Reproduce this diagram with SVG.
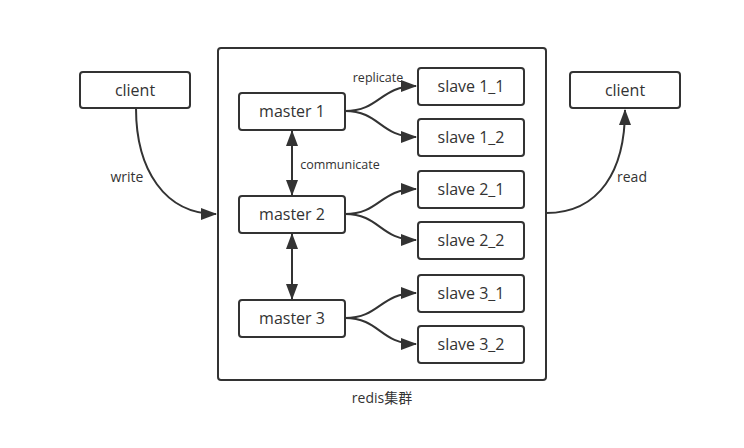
<svg xmlns="http://www.w3.org/2000/svg" width="744" height="448" viewBox="0 0 744 448">
<defs>
<style>
.box{fill:#fff;stroke:#333;stroke-width:2}
.t{font-family:"Open Sans","Noto Sans CJK SC",sans-serif;font-size:16px;fill:#333;text-anchor:middle;dominant-baseline:central}
.l{font-family:"Open Sans","Noto Sans CJK SC",sans-serif;font-size:14px;fill:#333;text-anchor:middle;dominant-baseline:central}
.s{font-family:"Open Sans","Noto Sans CJK SC",sans-serif;font-size:12.5px;fill:#333;text-anchor:middle;dominant-baseline:central}
.c{fill:none;stroke:#333;stroke-width:2}
</style>
<marker id="a" viewBox="0 0 16 12" refX="15" refY="6" markerWidth="16" markerHeight="12" markerUnits="userSpaceOnUse" orient="auto-start-reverse">
<path d="M0,0 L16,6 L0,12 z" fill="#333"/>
</marker>
</defs>
<rect width="744" height="448" fill="#fff"/>
<g id="cluster">
<rect class="box" x="218" y="48" width="328" height="332" rx="3"/>
<text class="l" x="382" y="397">redis集群</text>
</g>
<g id="client-left"><rect class="box" x="80" y="72" width="110" height="36" rx="3"/><text class="t" x="135" y="90">client</text></g>
<g id="client-right"><rect class="box" x="570" y="72" width="110" height="36" rx="3"/><text class="t" x="625" y="90">client</text></g>
<g id="master1"><rect class="box" x="239" y="93" width="106" height="37" rx="3"/><text class="t" x="292" y="111">master 1</text></g>
<g id="master2"><rect class="box" x="239" y="196" width="106" height="37" rx="3"/><text class="t" x="292" y="214">master 2</text></g>
<g id="master3"><rect class="box" x="239" y="300" width="106" height="37" rx="3"/><text class="t" x="292" y="318">master 3</text></g>
<g id="slave1_1"><rect class="box" x="418" y="68" width="106" height="37" rx="3"/><text class="t" x="471" y="86">slave 1_1</text></g>
<g id="slave1_2"><rect class="box" x="418" y="119" width="106" height="37" rx="3"/><text class="t" x="471" y="137">slave 1_2</text></g>
<g id="slave2_1"><rect class="box" x="418" y="171" width="106" height="37" rx="3"/><text class="t" x="471" y="189">slave 2_1</text></g>
<g id="slave2_2"><rect class="box" x="418" y="222" width="106" height="37" rx="3"/><text class="t" x="471" y="240">slave 2_2</text></g>
<g id="slave3_1"><rect class="box" x="418" y="275" width="106" height="37" rx="3"/><text class="t" x="471" y="293">slave 3_1</text></g>
<g id="slave3_2"><rect class="box" x="418" y="326" width="106" height="37" rx="3"/><text class="t" x="471" y="344">slave 3_2</text></g>
<g id="connectors">
<path class="c" d="M136,108 C136,170 165,214 216,214" marker-end="url(#a)"/>
<path class="c" d="M546,213 C600,213 625,170 625,110" marker-end="url(#a)"/>
<path class="c" d="M345,111 C380,111 380,86 416,86" marker-end="url(#a)"/>
<path class="c" d="M345,111 C380,111 380,137 416,137" marker-end="url(#a)"/>
<path class="c" d="M345,214 C380,214 380,189 416,189" marker-end="url(#a)"/>
<path class="c" d="M345,214 C380,214 380,240 416,240" marker-end="url(#a)"/>
<path class="c" d="M345,318 C380,318 380,293 416,293" marker-end="url(#a)"/>
<path class="c" d="M345,318 C380,318 380,344 416,344" marker-end="url(#a)"/>
<path class="c" d="M292,131 L292,195" marker-start="url(#a)" marker-end="url(#a)"/>
<path class="c" d="M292,234 L292,299" marker-start="url(#a)" marker-end="url(#a)"/>
<text class="l" x="127" y="176">write</text>
<text class="l" x="632" y="176">read</text>
<text class="s" x="378" y="77">replicate</text>
<text class="s" x="340" y="164">communicate</text>
</g>
</svg>
